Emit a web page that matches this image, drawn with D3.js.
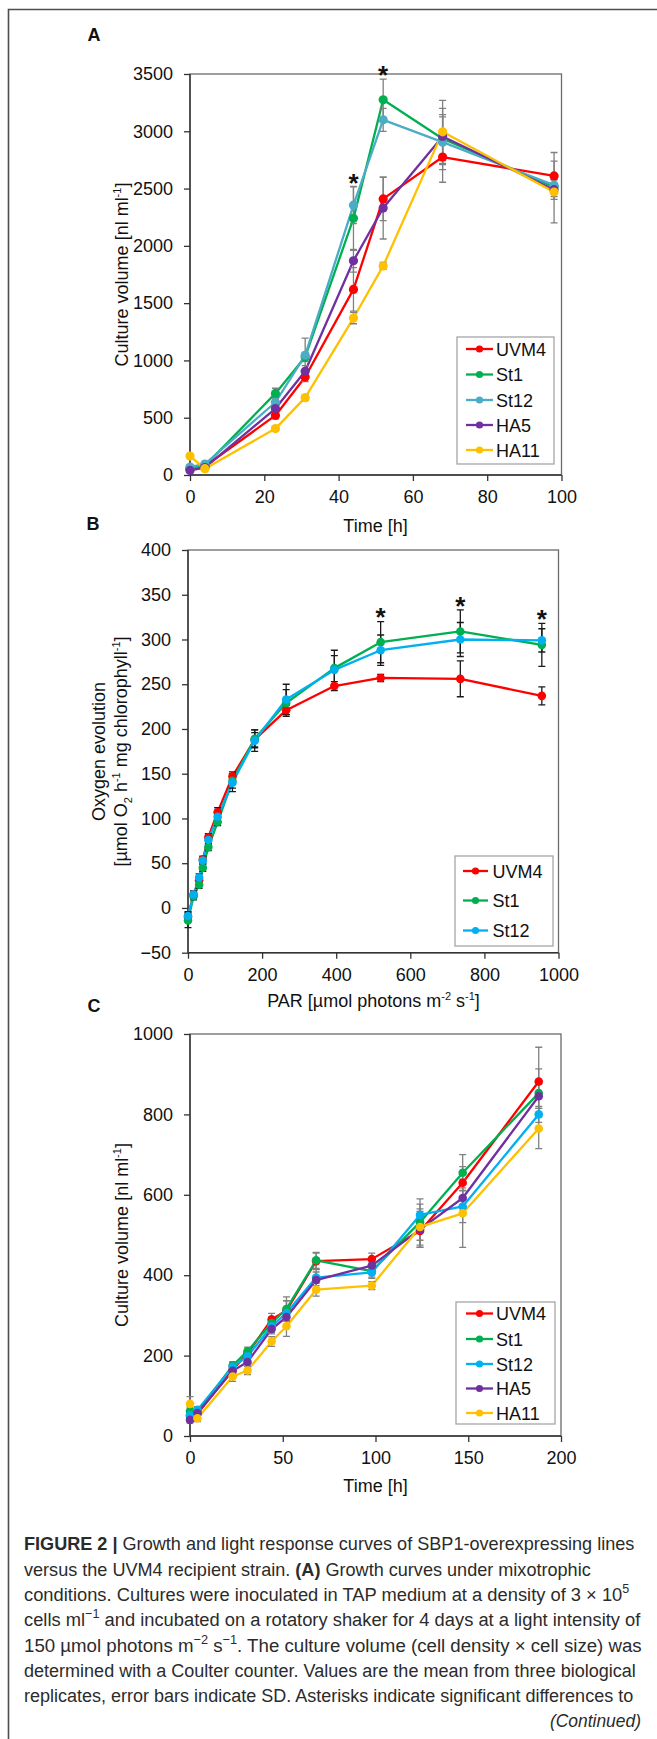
<!DOCTYPE html>
<html><head><meta charset="utf-8">
<script src="https://cdn.jsdelivr.net/npm/d3@7"></script>
<style>body{margin:0;background:#fff} svg{display:block}</style>
</head><body>
<svg id="fig" width="657" height="1739"></svg>
<script>
// ---------------- DATA ----------------
// Panel A: growth curves (culture volume, nl/ml)
const timeA = [0, 4, 23, 31, 44, 52, 68, 98];
const aUVM4 = [50, 75, 520, 855, 1620, 2410, 2775, 2610];
const aUVM4sd = [15, 15, 30, 40, 190, 190, 220, 205];
const aSt1 = [60, 80, 712, 1030, 2240, 3275, 2935, 2515];
const aSt1sd = [15, 15, 45, 40, 280, 180, 190, 60];
const aSt12 = [70, 95, 635, 1045, 2355, 3100, 2905, 2530];
const aSt12sd = [15, 15, 40, 150, 160, 100, 240, 50];
const aHA5 = [40, 65, 580, 905, 1870, 2330, 2955, 2490];
const aHA5sd = [10, 15, 40, 50, 100, 270, 245, 60];
const aHA11 = [165, 55, 405, 675, 1370, 1825, 2995, 2470];
const aHA11sd = [15, 10, 20, 25, 50, 30, 275, 270];
const starsA = [[44, 2600], [52, 3535]];

// Panel B: light response (oxygen evolution)
const parB = [0, 15, 30, 40, 55, 80, 120, 180, 265, 395, 520, 735, 955];
const bUVM4 = [-10, 15, 31, 54, 79, 107, 147, 188, 221, 248, 257, 256, 237];
const bUVM4sd = [5, 4, 4, 4, 4, 5, 5, 8, 5, 5, 4, 20, 10];
const bSt1 = [-14, 13, 26, 45, 68, 96, 142, 189, 229, 268, 297, 309, 294];
const bSt1sd = [8, 4, 4, 4, 4, 4, 8, 10, 15, 20, 23, 24, 24];
const bSt12 = [-9, 15, 34, 53, 76, 102, 140, 187, 233, 266, 288, 300, 299];
const bSt12sd = [5, 3, 4, 4, 5, 6, 10, 12, 17, 16, 17, 19, 13];
const starsB = [[520, 331], [735, 344], [955, 329]];

// Panel C: growth curves (culture volume, nl/ml)
const timeC = [0, 4, 23, 31, 44, 52, 68, 98, 124, 147, 188];
const cUVM4 = [50, 55, 165, 205, 290, 312, 435, 440, 510, 630, 882];
const cUVM4sd = [10, 8, 10, 10, 15, 25, 20, 15, 40, 40, 85];
const cSt1 = [62, 60, 175, 211, 281, 316, 437, 410, 532, 655, 853];
const cSt1sd = [10, 8, 10, 10, 15, 30, 20, 15, 45, 45, 60];
const cSt12 = [52, 65, 172, 198, 273, 306, 394, 407, 550, 571, 800];
const cSt12sd = [8, 8, 10, 10, 15, 30, 20, 15, 40, 40, 20];
const cHA5 = [40, 57, 162, 184, 266, 296, 388, 424, 514, 592, 845];
const cHA5sd = [8, 8, 10, 10, 12, 25, 20, 15, 45, 25, 30];
const cHA11 = [80, 44, 148, 163, 235, 273, 364, 374, 520, 554, 765];
const cHA11sd = [18, 8, 12, 10, 12, 25, 16, 10, 45, 85, 50];

// Tick values
const ticksAx = [0, 20, 40, 60, 80, 100];
const ticksAy = [0, 500, 1000, 1500, 2000, 2500, 3000, 3500];
const ticksBx = [0, 200, 400, 600, 800, 1000];
const ticksBy = [-50, 0, 50, 100, 150, 200, 250, 300, 350, 400];
const ticksCx = [0, 50, 100, 150, 200];
const ticksCy = [0, 200, 400, 600, 800, 1000];

// Colours
const colA = {UVM4: "#ff0000", St1: "#00b050", St12: "#4bacc6", HA5: "#7030a0", HA11: "#ffc000"};
const colBC = {UVM4: "#ff0000", St1: "#00b050", St12: "#00b0f0", HA5: "#7030a0", HA11: "#ffc000"};

// ---------------- DRAW ----------------
const FONT = "'Liberation Sans', Arial, Helvetica, sans-serif";
const svg = d3.select("#fig");
svg.append("rect").attr("width", 657).attr("height", 1739).attr("fill", "#fff");

// outer frame (top + left)
svg.append("path").attr("d", "M8.5,1739 V9.5 H657")
  .attr("fill", "none").attr("stroke", "#4d4d4d").attr("stroke-width", 1.6);

const fmt = d3.format("d");

function panel(cfg) {
  const g = svg.append("g");
  const x = d3.scaleLinear().domain(cfg.xDomain).range([cfg.x0, cfg.x1]);
  const y = d3.scaleLinear().domain(cfg.yDomain).range([cfg.yBot, cfg.yTop]);

  // plot box
  g.append("rect").attr("x", cfg.x0).attr("y", cfg.yTop)
    .attr("width", cfg.x1 - cfg.x0).attr("height", cfg.yBot - cfg.yTop)
    .attr("fill", "none").attr("stroke", "#6b6b6b").attr("stroke-width", 1.3);

  // axes
  const ax = g.append("g").attr("transform", `translate(0,${cfg.yBot})`)
    .call(d3.axisBottom(x).tickValues(cfg.xTicks).tickFormat(fmt).tickSize(6).tickSizeOuter(0).tickPadding(9.5));
  const ay = g.append("g").attr("transform", `translate(${cfg.x0},0)`)
    .call(d3.axisLeft(y).tickValues(cfg.yTicks).tickFormat(fmt).tickSize(6).tickSizeOuter(0).tickPadding(11));
  [ax, ay].forEach(a => {
    a.select(".domain").attr("stroke", "#333").attr("stroke-width", 1.4);
    a.selectAll(".tick line").attr("stroke", "#333").attr("stroke-width", 1.3);
    a.selectAll(".tick text").attr("font-family", FONT).attr("font-size", 18).attr("fill", "#111");
  });
  ax.select(".domain").attr("d", `M${cfg.x0},0H${cfg.x1}`);
  ay.select(".domain").attr("d", `M0,${cfg.yBot}V${cfg.yTop}`);

  const line = d3.line().x(d => x(d[0])).y(d => y(d[1]));

  // series lines
  cfg.series.forEach(s => {
    const pts = s.x.map((v, i) => [v, s.y[i]]);
    g.append("path").datum(pts).attr("d", line)
      .attr("fill", "none").attr("stroke", s.color).attr("stroke-width", 2.3)
      .attr("stroke-linejoin", "round");
  });
  // error bars
  cfg.series.forEach(s => {
    const eg = g.append("g").attr("stroke", cfg.errColor).attr("stroke-width", 1.3).attr("fill", "none");
    s.x.forEach((v, i) => {
      const cx = x(v), yt = y(s.y[i] + s.sd[i]), yb = y(s.y[i] - s.sd[i]);
      eg.append("path").attr("d", `M${cx},${yt}V${yb}M${cx - 3.5},${yt}H${cx + 3.5}M${cx - 3.5},${yb}H${cx + 3.5}`);
    });
  });
  // markers
  cfg.series.forEach(s => {
    g.append("g").selectAll("circle").data(s.x.map((v, i) => [v, s.y[i]])).join("circle")
      .attr("cx", d => x(d[0])).attr("cy", d => y(d[1])).attr("r", cfg.r).attr("fill", s.color);
  });

  // asterisks
  (cfg.stars || []).forEach(st => {
    g.append("text").attr("x", x(st[0])).attr("y", y(st[1]) + 14.5)
      .attr("text-anchor", "middle").attr("font-family", FONT).attr("font-weight", "bold")
      .attr("font-size", 26).attr("fill", "#111").text("*");
  });

  // legend
  const L = cfg.legend;
  g.append("rect").attr("x", L.x0).attr("y", L.y0).attr("width", L.x1 - L.x0).attr("height", L.y1 - L.y0)
    .attr("fill", "#fff").attr("stroke", "#a6a6a6").attr("stroke-width", 1.3);
  cfg.series.forEach((s, i) => {
    const ly = L.rows[i];
    g.append("line").attr("x1", L.lx0).attr("x2", L.lx1).attr("y1", ly).attr("y2", ly)
      .attr("stroke", s.color).attr("stroke-width", 2.3);
    g.append("circle").attr("cx", (L.lx0 + L.lx1) / 2).attr("cy", ly).attr("r", 3.6).attr("fill", s.color);
    g.append("text").attr("x", L.tx).attr("y", ly + 6.5).attr("font-family", FONT)
      .attr("font-size", 18).attr("fill", "#111").text(s.name);
  });
  return {g, x, y};
}

function mk(names, xs, ys, sds, cols) {
  return names.map((n, i) => ({name: n, x: xs, y: ys[i], sd: sds[i], color: cols[n]}));
}

// Panel A
panel({
  x0: 190, x1: 561.5, yTop: 74, yBot: 475, xDomain: [0, 100], yDomain: [0, 3500],
  xTicks: ticksAx, yTicks: ticksAy, r: 4.6, errColor: "#808080",
  series: mk(["UVM4", "St1", "St12", "HA5", "HA11"], timeA,
    [aUVM4, aSt1, aSt12, aHA5, aHA11], [aUVM4sd, aSt1sd, aSt12sd, aHA5sd, aHA11sd], colA),
  stars: starsA,
  legend: {x0: 457, x1: 554, y0: 337, y1: 464, rows: [349, 374.5, 400, 425, 450], lx0: 466, lx1: 493, tx: 496}
});
// Panel B
panel({
  x0: 188, x1: 558.5, yTop: 550, yBot: 952.7, xDomain: [0, 1000], yDomain: [-50, 400],
  xTicks: ticksBx, yTicks: ticksBy, r: 4.3, errColor: "#1a1a1a",
  series: mk(["UVM4", "St1", "St12"], parB,
    [bUVM4, bSt1, bSt12], [bUVM4sd, bSt1sd, bSt12sd], colBC),
  stars: starsB,
  legend: {x0: 455, x1: 553, y0: 856, y1: 946, rows: [871, 900.5, 930.5], lx0: 463, lx1: 488, tx: 492.5}
});
// Panel C
panel({
  x0: 190, x1: 561, yTop: 1034, yBot: 1436, xDomain: [0, 200], yDomain: [0, 1000],
  xTicks: ticksCx, yTicks: ticksCy, r: 4.3, errColor: "#808080",
  series: mk(["UVM4", "St1", "St12", "HA5", "HA11"], timeC,
    [cUVM4, cSt1, cSt12, cHA5, cHA11], [cUVM4sd, cSt1sd, cSt12sd, cHA5sd, cHA11sd], colBC),
  legend: {x0: 456, x1: 555, y0: 1302, y1: 1424, rows: [1313.5, 1339, 1364, 1388.5, 1413], lx0: 466, lx1: 493, tx: 496}
});

// panel letters
[["A", 94, 41], ["B", 93, 529.5], ["C", 94, 1011.5]].forEach(p => {
  svg.append("text").attr("x", p[1]).attr("y", p[2]).attr("text-anchor", "middle")
    .attr("font-family", FONT).attr("font-weight", "bold").attr("font-size", 18).attr("fill", "#111").text(p[0]);
});

// axis titles
function hTitle(xc, yb, parts) {
  const t = svg.append("text").attr("x", xc).attr("y", yb).attr("text-anchor", "middle")
    .attr("font-family", FONT).attr("font-size", 18).attr("fill", "#111");
  parts.forEach(p => {
    const ts = t.append("tspan").text(p[0]);
    if (p[1] === "sup") ts.attr("font-size", 11).attr("dy", -7);
    if (p[1] === "sub") ts.attr("font-size", 11).attr("dy", 5);
    if (p[1] === "back") ts.attr("dy", p[2]);
  });
  return t;
}
function vTitle(xc, yc, parts) {
  const t = hTitle(0, 0, parts);
  t.attr("transform", `translate(${xc + 6.3},${yc}) rotate(-90)`);
  return t;
}
function seq(arr) {
  const out = [];
  let shift = 0;
  arr.forEach(a => {
    if (a[1] === "sup") { out.push([a[0], "sup"]); shift = 7; }
    else if (a[1] === "sub") { out.push([a[0], "sub"]); shift = -5; }
    else { out.push([a[0], "back", shift]); shift = 0; }
  });
  return out;
}
hTitle(375.5, 531.5, seq([["Time [h]"]]));
hTitle(373.5, 1006.5, seq([["PAR [µmol photons m"], ["-2", "sup"], [" s"], ["-1", "sup"], ["]"]]));
hTitle(375.5, 1491.5, seq([["Time [h]"]]));
vTitle(121.5, 274.5, seq([["Culture volume [nl ml"], ["-1", "sup"], ["]"]]));
vTitle(98.7, 751.5, seq([["Oxygen evolution"]]));
vTitle(120.7, 751.5, seq([["[µmol O"], ["2", "sub"], [" h"], ["-1", "sup"], [" mg chlorophyll"], ["-1", "sup"], ["]"]]));
vTitle(121.5, 1235, seq([["Culture volume [nl ml"], ["-1", "sup"], ["]"]]));

// ---------------- CAPTION ----------------
const capLines = [
  {y: 1550, x0: 24, x1: 634.7, parts: [["FIGURE 2 | ", "b"], ["Growth and light response curves of SBP1-overexpressing lines"]]},
  {y: 1575.5, x0: 24, x1: 590.7, parts: [["versus the UVM4 recipient strain. "], ["(A)", "b"], [" Growth curves under mixotrophic"]]},
  {y: 1601, x0: 24, x1: 629.7, parts: [["conditions. Cultures were inoculated in TAP medium at a density of 3 × 10"], ["5", "sup"]]},
  {y: 1626.3, x0: 24, x1: 641, parts: [["cells ml"], ["−1", "sup"], [" and incubated on a rotatory shaker for 4 days at a light intensity of"]]},
  {y: 1651.5, x0: 24, x1: 641.8, parts: [["150 µmol photons m"], ["−2", "sup"], [" s"], ["−1", "sup"], [". The culture volume (cell density × cell size) was"]]},
  {y: 1676.8, x0: 24, x1: 636, parts: [["determined with a Coulter counter. Values are the mean from three biological"]]},
  {y: 1702, x0: 24, x1: 633.8, parts: [["replicates, error bars indicate SD. Asterisks indicate significant differences to"]]},
  {y: 1727.3, x0: 550, x1: 641, parts: [["(Continued)", "i"]]}
];
capLines.forEach(L => {
  const t = svg.append("text").attr("x", 0).attr("y", 0)
    .attr("font-family", FONT).attr("font-size", 19).attr("fill", "#2b2b2b");
  let shift = 0;
  L.parts.forEach(p => {
    const ts = t.append("tspan").text(p[0]);
    if (p[1] === "b") ts.attr("font-weight", "bold");
    if (p[1] === "i") ts.attr("font-style", "italic");
    if (p[1] === "sup") { ts.attr("font-size", 13).attr("dy", -8); shift = 8; }
    else if (shift) { ts.attr("dy", shift); shift = 0; }
  });
  const w = t.node().getComputedTextLength();
  const k = (L.x1 - L.x0) / w;
  t.attr("transform", `translate(${L.x0},${L.y}) scale(${k},1)`);
});
</script>
</body></html>
